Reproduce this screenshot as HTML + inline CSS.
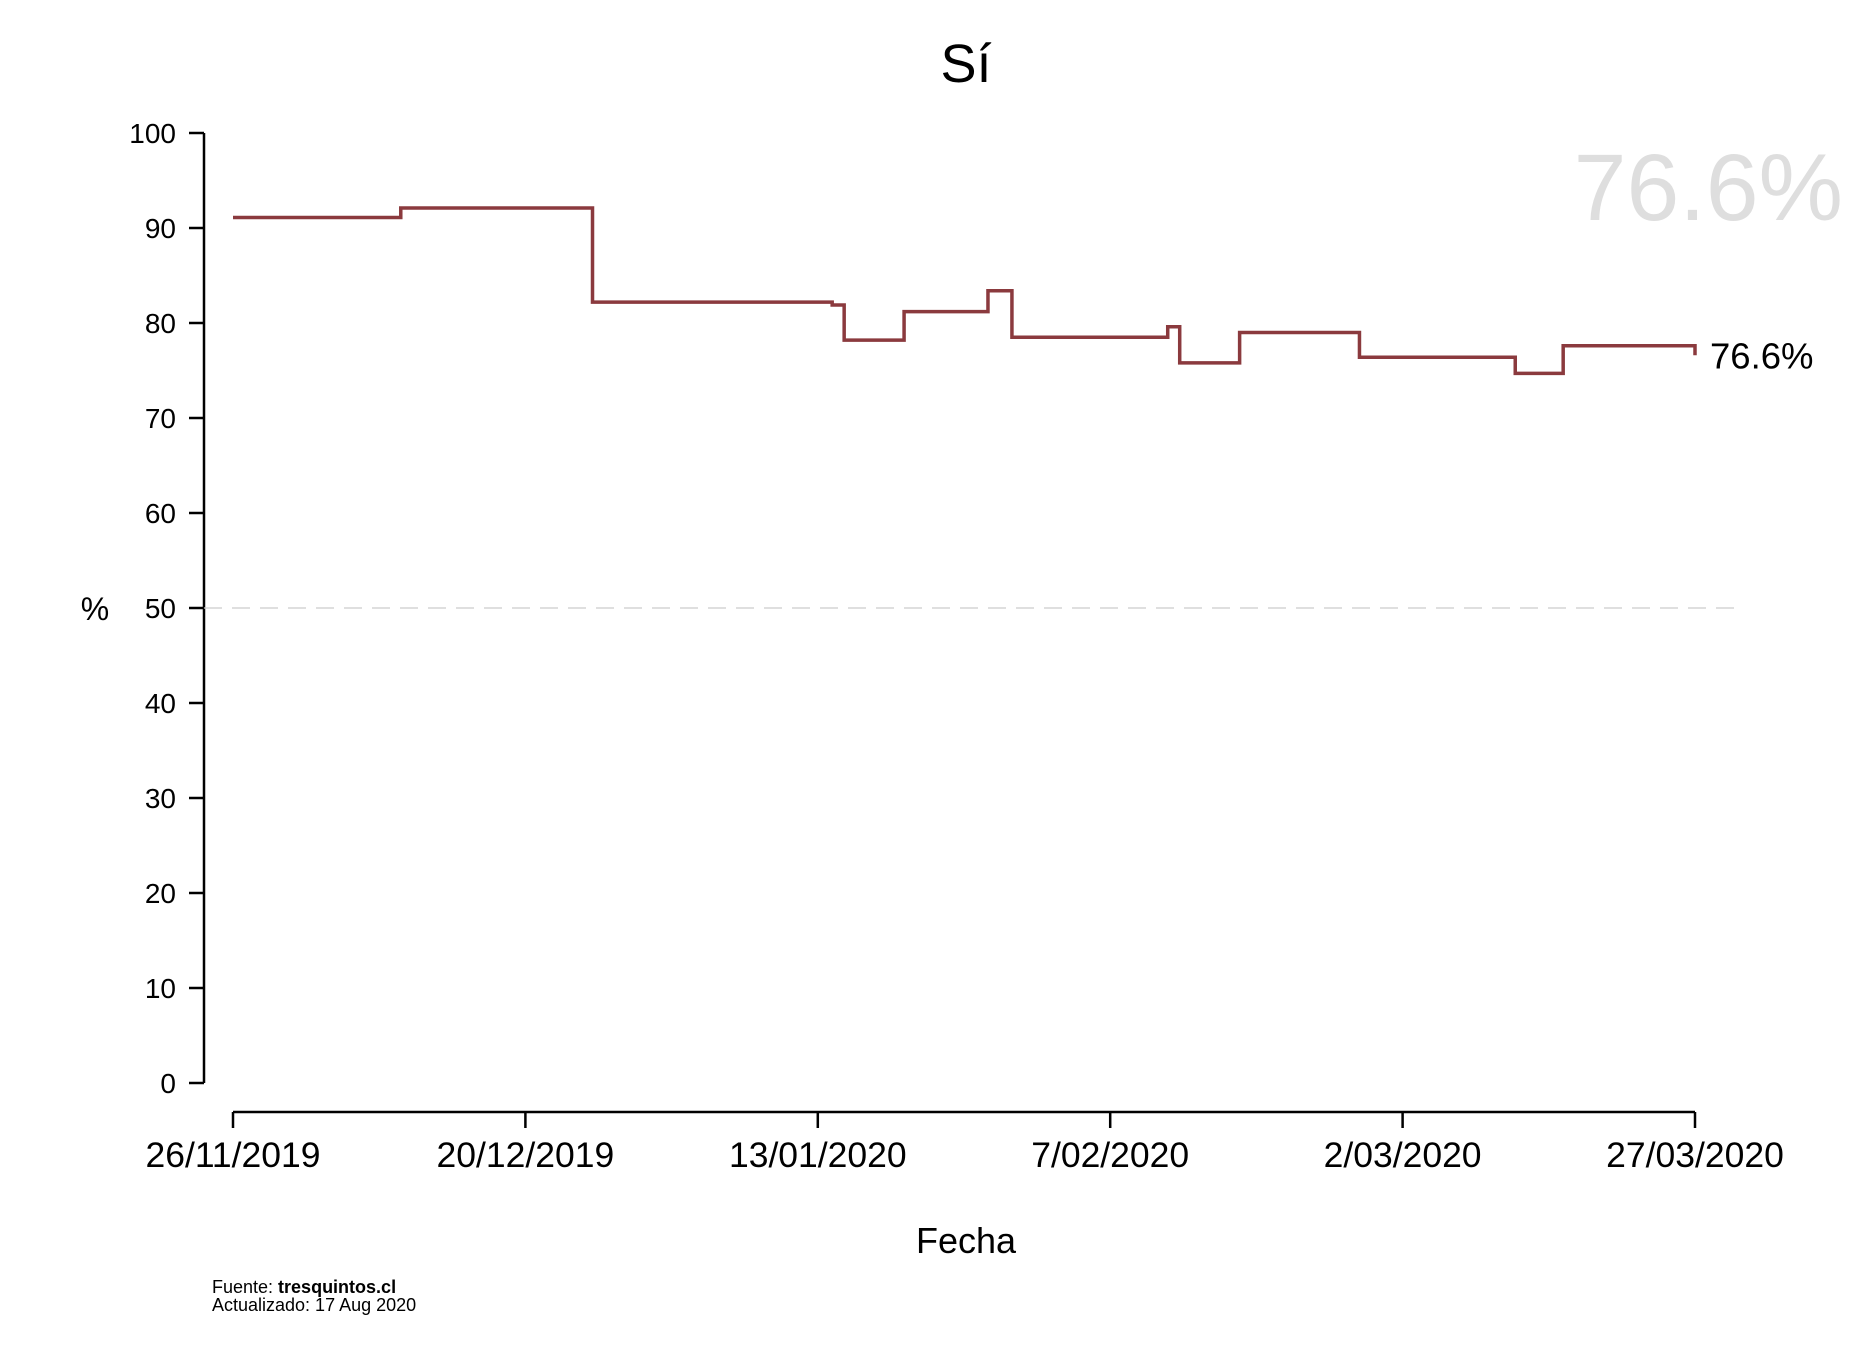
<!DOCTYPE html>
<html><head><meta charset="utf-8"><style>
body{margin:0;background:#fff}
svg text{font-family:"Liberation Sans",sans-serif}
</style></head><body>
<svg id="chart" width="1862" height="1354" viewBox="0 0 1862 1354" xmlns="http://www.w3.org/2000/svg">
<text x="966" y="82" font-size="54" text-anchor="middle">Sí</text>
<text x="1843" y="220" font-size="95" fill="#dedede" text-anchor="end">76.6%</text>
<text x="95" y="620" font-size="32" text-anchor="middle">%</text>
<text x="966" y="1253" font-size="36" text-anchor="middle">Fecha</text>
<text x="212" y="1293" font-size="18">Fuente: <tspan font-weight="bold">tresquintos.cl</tspan></text>
<text x="212" y="1311" font-size="18">Actualizado: 17 Aug 2020</text>
<g id="axes"></g>
<g id="marks"></g>
</svg>
<script>
const yTicks=[0,10,20,30,40,50,60,70,80,90,100];
const xTickDays=[0,24.4,48.8,73.2,97.6,122];
const xTickLabels=["26/11/2019","20/12/2019","13/01/2020","7/02/2020","2/03/2020","27/03/2020"];
const stepDays=[0,14,30,50,51,56,63,65,78,79,84,94,107,111,122];
const stepValues=[91.1,92.1,82.2,81.9,78.2,81.2,83.4,78.5,79.6,75.8,79.0,76.4,74.7,77.6,76.6];
const lastLabel="76.6%";
const NS="http://www.w3.org/2000/svg";
const X=d=>233+d*(1695-233)/122;
const Y=v=>1083-v*(1083-133)/100;
function mk(tag,attrs,parent){const e=document.createElementNS(NS,tag);for(const k in attrs)e.setAttribute(k,attrs[k]);parent.appendChild(e);return e;}
const ax=document.getElementById('axes'),mg=document.getElementById('marks');
let a=mk('line',{x1:204,x2:204,y1:Y(100),y2:Y(0),stroke:'#000','stroke-width':2.5},ax);


yTicks.forEach(v=>{
 const t=mk('line',{x1:189,x2:204,y1:Y(v),y2:Y(v),stroke:'#000','stroke-width':2.5},ax);
 
 
 const l=mk('text',{x:176,y:Y(v)+10,'font-size':28,'text-anchor':'end'},ax);l.textContent=v;
 
 
});
let b=mk('line',{x1:X(0),x2:X(122),y1:1112,y2:1112,stroke:'#000','stroke-width':2.5},ax);


xTickDays.forEach((d,i)=>{
 const t=mk('line',{x1:X(d),x2:X(d),y1:1112,y2:1128,stroke:'#000','stroke-width':2.5},ax);
 
 
 const l=mk('text',{x:X(d),y:1167,'font-size':35.5,'text-anchor':'middle'},ax);l.textContent=xTickLabels[i];
 
 
});
let r=mk('line',{x1:204,x2:1737,y1:Y(50),y2:Y(50),stroke:'#cccccc','stroke-width':1.2,'stroke-dasharray':'18 10'},ax);


let p='';
for(let i=0;i<stepDays.length;i++){
 if(i===0)p+='M'+X(stepDays[0])+','+Y(stepValues[0]);
 else p+=' H'+X(stepDays[i])+' V'+Y(stepValues[i]);
}
const path=mk('path',{d:p,fill:'none',stroke:'#8b3a3e','stroke-width':3.5},mg);


const ll=mk('text',{x:1710,y:Y(stepValues[stepValues.length-1])+13,'font-size':36.5},mg);
ll.textContent=lastLabel;


</script>
</body></html>
